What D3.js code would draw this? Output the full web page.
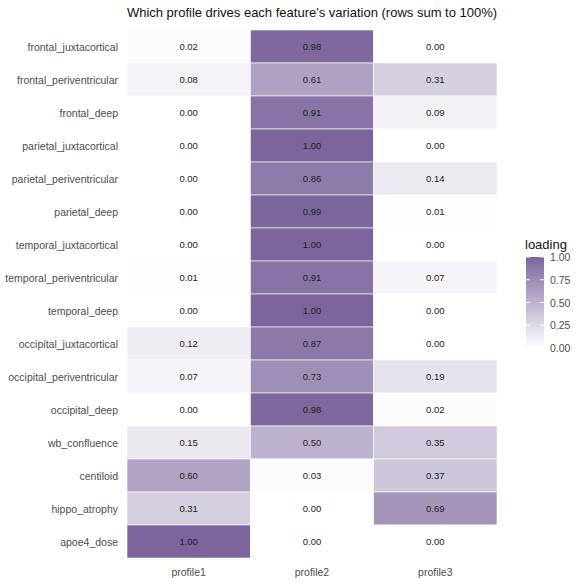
<!DOCTYPE html><html><head><script src="https://cdn.jsdelivr.net/npm/d3@7"></script>
<style>body{margin:0;background:#fff}text{font-family:Arial,"Liberation Sans",sans-serif}</style></head><body>
<svg id="c" width="584" height="584"></svg>
<script>
const features=["frontal_juxtacortical","frontal_periventricular","frontal_deep","parietal_juxtacortical","parietal_periventricular","parietal_deep","temporal_juxtacortical","temporal_periventricular","temporal_deep","occipital_juxtacortical","occipital_periventricular","occipital_deep","wb_confluence","centiloid","hippo_atrophy","apoe4_dose"];
const profiles=["profile1","profile2","profile3"];
const profile1=[0.02,0.08,0.00,0.00,0.00,0.00,0.00,0.01,0.00,0.12,0.07,0.00,0.15,0.60,0.31,1.00];
const profile2=[0.98,0.61,0.91,1.00,0.86,0.99,1.00,0.91,1.00,0.87,0.73,0.98,0.50,0.03,0.00,0.00];
const profile3=[0.00,0.31,0.09,0.00,0.14,0.01,0.00,0.07,0.00,0.00,0.19,0.02,0.35,0.37,0.69,0.00];
const legendTicks=[0,0.25,0.5,0.75,1];
const series=[profile1,profile2,profile3];
const svg=d3.select("#c");
const x=d3.scaleBand().domain(profiles).range([127,497]);
const y=d3.scaleBand().domain(features).range([30,558]);
const col=d3.scaleLinear().domain([0,1]).range(["#ffffff","#7b659c"]);
const cells=[];features.forEach((f,i)=>profiles.forEach((p,j)=>cells.push({f,p,v:series[j][i]})));
svg.selectAll("rect.c").data(cells).join("rect").attr("x",d=>x(d.p)).attr("y",d=>y(d.f)).attr("width",x.bandwidth()).attr("height",y.bandwidth()).attr("fill",d=>col(d.v)).attr("stroke","#fff").attr("stroke-width",0.6);
svg.selectAll("text.v").data(cells).join("text").attr("x",d=>x(d.p)+x.bandwidth()/2).attr("y",d=>y(d.f)+y.bandwidth()/2+3.5).attr("text-anchor","middle").attr("font-size",9.5).attr("fill","#222").text(d=>d.v.toFixed(2));
svg.selectAll("text.r").data(features).join("text").attr("x",118).attr("y",d=>y(d)+y.bandwidth()/2+4).attr("text-anchor","end").attr("font-size",10.5).attr("fill","#4d4d4d").text(d=>d);
svg.selectAll("text.p").data(profiles).join("text").attr("x",d=>x(d)+x.bandwidth()/2).attr("y",576).attr("text-anchor","middle").attr("font-size",10.5).attr("fill","#4d4d4d").text(d=>d);
svg.append("text").attr("x",312).attr("y",17).attr("text-anchor","middle").attr("font-size",13).attr("fill","#111").text("Which profile drives each feature's variation (rows sum to 100%)");
const defs=svg.append("defs");const g=defs.append("linearGradient").attr("id","lg").attr("x1",0).attr("x2",0).attr("y1",1).attr("y2",0);
g.selectAll("stop").data(legendTicks).join("stop").attr("offset",d=>d).attr("stop-color",d=>col(d));
const ly=d3.scaleLinear().domain([0,1]).range([348,257]);
svg.append("text").attr("x",525).attr("y",249).attr("font-size",13).attr("fill","#111").text("loading");
svg.append("rect").attr("x",526).attr("y",ly(1)).attr("width",18).attr("height",ly(0)-ly(1)).attr("fill","url(#lg)");
legendTicks.forEach(t=>{
 svg.append("line").attr("x1",526).attr("x2",530).attr("y1",ly(t)).attr("y2",ly(t)).attr("stroke","#fff");
 svg.append("line").attr("x1",540).attr("x2",544).attr("y1",ly(t)).attr("y2",ly(t)).attr("stroke","#fff");
 svg.append("text").attr("x",550).attr("y",ly(t)+4).attr("font-size",10.5).attr("fill","#4d4d4d").text(t.toFixed(2));
});
</script></body></html>
